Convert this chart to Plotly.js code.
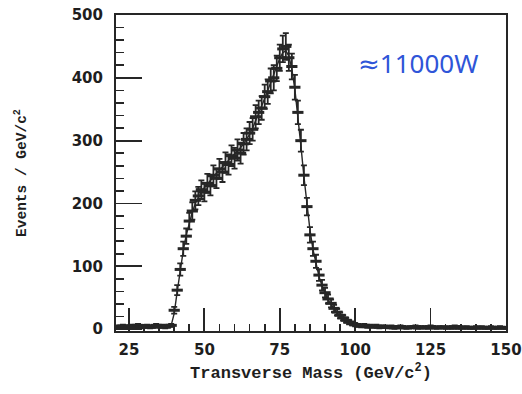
<!DOCTYPE html>
<html>
<head>
<meta charset="utf-8">
<script src="https://cdn.plot.ly/plotly-3.0.1.min.js"></script>
<style>html,body{margin:0;padding:0;background:#fff;}#chart{width:522px;height:394px;}</style>
</head>
<body>
<div id="chart"></div>
<script>
// Transverse mass bins (GeV/c^2), 1 GeV wide
const massBins = [];
for (let m = 21; m <= 150; m++) massBins.push(m);

const events = [
  4,3,5,4,3,5,4,6,3,4,5,3,4,6,4,5,3,5,6,          // 21-39
  30,62,95,128,148,172,188,205,212,222,            // 40-49
  218,232,228,245,240,255,250,265,262,276,         // 50-59
  272,285,280,295,302,312,318,338,345,352,         // 60-69
  370,378,395,400,415,432,446,450,432,418,         // 70-79
  385,345,300,245,195,150,128,108,86,70,           // 80-89
  58,48,41,33,27,22,18,14,11,9,                    // 90-99
  7,6,5,6,4,5,4,5,3,4,                             // 100-109
  4,3,4,2,3,4,3,2,3,3,                             // 110-119
  4,2,3,3,2,4,3,2,3,3,                             // 120-129
  2,3,2,4,2,3,2,3,2,2,                             // 130-139
  3,2,3,2,2,3,2,2,3,2,2                            // 140-150
];

// Smooth curve overlaid on the data
const fitCurve = [
  3,3,3,3,3,3,3,3,3,3,3,3,3,3,3,3,3,4,6,           // 21-39
  25,60,95,125,150,170,186,200,210,218,            // 40-49
  225,231,237,243,248,253,258,263,268,273,         // 50-59
  278,283,289,295,302,310,320,331,343,355,         // 60-69
  367,380,393,406,419,431,440,443,435,414,         // 70-79
  382,340,292,243,197,158,127,103,84,69,           // 80-89
  57,47,39,32,26,21,17,14,11,9,                    // 90-99
  8,7,6,6,5,5,5,4,4,4,                             // 100-109
  4,3,3,3,3,3,3,3,3,3,                             // 110-119
  3,3,3,3,3,3,3,3,3,3,                             // 120-129
  2,2,2,2,2,2,2,2,2,2,                             // 130-139
  2,2,2,2,2,2,2,2,2,2,2                            // 140-150
];

const xTickVals = [25, 50, 75, 100, 125, 150];
const xTickText = ['25', '50', '75', '100', '125', '150'];
const yTickVals = [0, 100, 200, 300, 400, 500];
const yTickText = ['0', '100', '200', '300', '400', '500'];

const ink = '#262626';

const traces = [
  {
    x: massBins, y: fitCurve, type: 'scatter', mode: 'lines',
    line: {color: ink, width: 1.4}, hoverinfo: 'skip', showlegend: false
  },
  {
    x: massBins, y: events, type: 'scatter', mode: 'markers',
    marker: {symbol: 'line-ew', size: 8, line: {color: ink, width: 3}, color: ink},
    error_y: {type: 'sqrt', visible: true, color: ink, thickness: 1.8, width: 3},
    showlegend: false
  }
];

const tickFont = {family: 'DejaVu Sans, Arial, sans-serif', size: 15, color: '#1e1e1e', weight: 'bold'};

const layout = {
  width: 522, height: 394,
  margin: {l: 116, r: 16, t: 15, b: 63},
  paper_bgcolor: '#ffffff', plot_bgcolor: '#ffffff',
  showlegend: false,
  xaxis: {
    range: [20.7, 150], tickmode: 'array', tickvals: xTickVals, ticktext: xTickText,
    ticks: 'inside', ticklen: 23, tickwidth: 1.8, tickcolor: ink,
    minor: {dtick: 5, tick0: 0, ticks: 'inside', ticklen: 7, tickwidth: 1.6, tickcolor: ink, showgrid: false},
    showline: true, linecolor: ink, linewidth: 2, mirror: true,
    showgrid: false, zeroline: false,
    tickfont: tickFont, ticklabelstandoff: 4,
    title: {text: 'Transverse Mass (GeV/c<sup>2</sup>)', font: {family: 'Liberation Mono, DejaVu Sans Mono, monospace', size: 17, color: '#1e1e1e', weight: 'bold'}, standoff: 8}
  },
  yaxis: {
    range: [-3, 500], tickmode: 'array', tickvals: yTickVals, ticktext: yTickText,
    ticks: 'inside', ticklen: 26, tickwidth: 1.8, tickcolor: ink,
    minor: {dtick: 20, tick0: 0, ticks: 'inside', ticklen: 8, tickwidth: 1.6, tickcolor: ink, showgrid: false},
    showline: true, linecolor: ink, linewidth: 2, mirror: true,
    showgrid: false, zeroline: false,
    tickfont: tickFont, ticklabelstandoff: 8,
    title: {text: 'Events / GeV/c<sup>2</sup>', font: {family: 'Liberation Mono, DejaVu Sans Mono, monospace', size: 14.5, color: '#1e1e1e', weight: 'bold'}, standoff: 42}
  },
  annotations: [
    {
      text: '≈11000W', xref: 'paper', yref: 'paper', x: 0.774, y: 0.848,
      xanchor: 'center', yanchor: 'middle', showarrow: false,
      font: {family: 'Noto Sans, DejaVu Sans, sans-serif', size: 26, color: '#2f55d8'}
    }
  ]
};

Plotly.newPlot('chart', traces, layout, {staticPlot: true, displayModeBar: false});
</script>
</body>
</html>
